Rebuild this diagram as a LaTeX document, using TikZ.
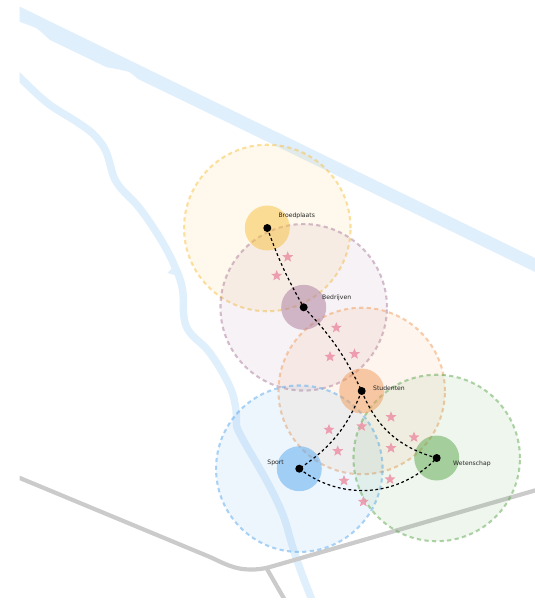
\documentclass[tikz,border=0pt]{standalone}
\usepackage{fontspec}
\setmainfont{DejaVu Sans}
\usetikzlibrary{shapes.geometric}
\definecolor{cyel}{HTML}{F7C144}
\definecolor{cpur}{HTML}{AC7D9D}
\definecolor{cora}{HTML}{F09D5C}
\definecolor{cblu}{HTML}{5AA8EE}
\definecolor{cgre}{HTML}{61A852}
\definecolor{river}{HTML}{E0EFFC}
\definecolor{road}{HTML}{CBCBCB}
\definecolor{starc}{HTML}{EC96A9}
\tikzset{
  zone/.style={circle,inner sep=0pt,minimum size=166.5pt,draw=#1,draw opacity=.5,fill=#1,fill opacity=.1,line width=2.1pt,dash pattern=on 4.2pt off 3.4pt},
  core/.style={circle,inner sep=0pt,minimum size=45pt,fill=#1,fill opacity=.52},
  hub/.style={circle,inner sep=0pt,minimum size=8pt,fill=black},
  lbl/.style={font=\fontsize{6.1}{7}\selectfont,text=black!85,inner sep=0pt},
  poi/.style={star,star points=5,star point ratio=2.3,inner sep=0pt,minimum size=11.5pt,fill=starc,fill opacity=.9},
  link/.style={black,line width=1.2pt,dash pattern=on 2.8pt off 2.6pt},
  riverline/.style={river,line width=7.5pt,line join=round,line cap=butt},
  roadline/.style={road,line width=4.2pt,line join=round}
}
\begin{document}
\begin{tikzpicture}[x=1pt,y=-1pt]
\useasboundingbox (0,0) rectangle (535,606);
\begin{scope}
\clip (19.5,0) rectangle (535,597);
\fill[river] (19.5,6.5) -- (535,258) -- (535,272) -- (200,109) -- (138,79) .. controls (133,75) and (131,72.5) .. (128,71.7) .. controls (122,70) and (112,68) .. (106.7,67.3) -- (50,40) .. controls (42,33) and (38,28) .. (33,26.7) -- (19.5,21.7) -- cycle;
\draw[riverline] (15,73) .. controls (28,85) and (38,96) .. (50,105) .. controls (60,112) and (68,116) .. (77,122) .. controls (86,128) and (92,132) .. (97,138) .. controls (103,145) and (106,150) .. (108,157) .. controls (111,166) and (112,176) .. (117,183) .. controls (122,191) and (130,197) .. (137,205) .. controls (146,216) and (153,227) .. (160,238) .. controls (166,248) and (171,257) .. (175,267) .. controls (180,277) and (182,285) .. (183,293) .. controls (184,305) and (182,318) .. (187,328) .. controls (193,339) and (203,343) .. (210,353) .. controls (218,364) and (225,376) .. (230,387) .. controls (234,396) and (235,403) .. (236,410) .. controls (237,420) and (235,425) .. (238,430) .. controls (243,440) and (247,447) .. (253,457) .. controls (260,469) and (267,481) .. (273,493) .. controls (279,505) and (284,516) .. (287,527) .. controls (290,538) and (293,549) .. (297,560) .. controls (301,572) and (306,585) .. (312,600);
\fill[river] (175,265) -- (167.5,273) -- (178,276) -- cycle;
\draw[roadline] (15,476) -- (210,557) .. controls (225,564) and (235,569.5) .. (250,569.5) .. controls (258,569.5) and (262,569) .. (270,567) -- (540,489);
\draw[roadline] (267,569) -- (286,602);
\end{scope}

\node[zone=cyel] (zb) at (267.3,228) {};
\node[zone=cpur] (zc) at (303.7,307.3) {};
\node[zone=cora] (zs) at (361.7,391) {};
\node[zone=cblu] (zp) at (299.3,468.7) {};
\node[zone=cgre] (zw) at (436.7,458) {};
\node[core=cyel] (cb) at (267.3,228) {};
\node[core=cpur] (cc) at (303.7,307.3) {};
\node[core=cora] (cs) at (361.7,391) {};
\node[core=cblu] (cp) at (299.3,468.7) {};
\node[core=cgre] (cw) at (436.7,458) {};

\foreach \n/\p in {s1/{287.7,257},s2/{276.7,275.7},s3/{336.3,327.7},s4/{330,356.7},s5/{354.5,354},s6/{391,417},s7/{414,437.3},s8/{391,448},s9/{361.7,426.3},s10/{329,429.7},s11/{337.7,451},s12/{344,480.7},s13/{390,479.3},s14/{363.3,501.7}}
  \node[poi] (\n) at (\p) {};

\node[hub] (hb) at (267.3,228) {};
\node[hub] (hc) at (303.7,307.3) {};
\node[hub] (hs) at (361.7,391) {};
\node[hub] (hp) at (299.3,468.7) {};
\node[hub] (hw) at (436.7,458) {};

\draw[link] (hb.center) to[bend right=5] (hc.center);
\draw[link] (hc.center) to[bend left=9] (hs.center);
\draw[link] (hs.center) to[bend left=17] (hp.center);
\draw[link] (hs.center) to[bend right=26] (hw.center);
\draw[link] (hp.center) to[bend right=42] (hw.center);

\node[lbl,anchor=west] (lb) at (278.3,215.7) {Broedplaats};
\node[lbl,anchor=west] (lc) at (322,298) {Bedrijven};
\node[lbl,anchor=west] (ls) at (373,388.7) {Studenten};
\node[lbl,anchor=east] (lp) at (284,462.7) {Sport};
\node[lbl,anchor=west] (lw) at (453,463.5) {Wetenschap};
\end{tikzpicture}
\end{document}
